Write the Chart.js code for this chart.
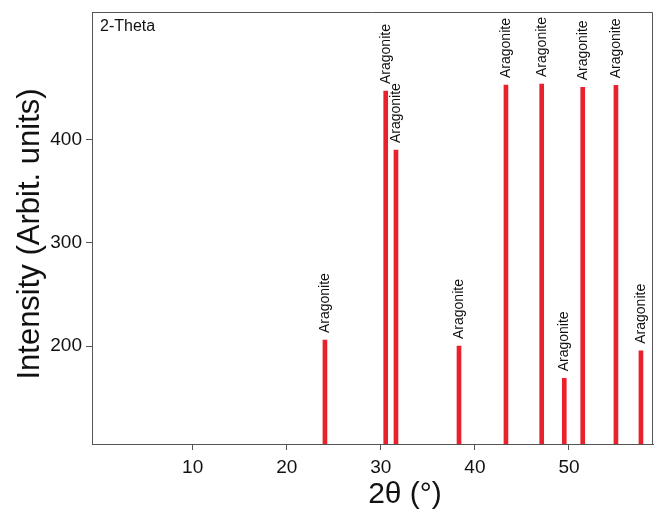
<!DOCTYPE html>
<html lang="en">
<head>
    <meta charset="UTF-8">
    <title>2-Theta peaks</title>
    <script src="https://cdn.jsdelivr.net/npm/chart.js"></script>
    <style>
        html, body { margin: 0; padding: 0; background: #fff; }
        #wrap { width: 654px; height: 513px; }
    </style>
</head>
<body>
    <div id="wrap"><canvas id="xrd" width="654" height="513"></canvas></div>
    <script>
        // peak positions (2-theta, degrees) and intensities
        const peakPos = [24.06, 30.52, 31.61, 38.31, 43.30, 47.10, 49.50, 51.46, 54.99, 57.65];
        const peakInt = [205.8, 447, 389.8, 200, 452.8, 453.8, 168.7, 450.6, 452.5, 195.4];
        const peakNames = ['Aragonite', 'Aragonite', 'Aragonite', 'Aragonite', 'Aragonite',
                           'Aragonite', 'Aragonite', 'Aragonite', 'Aragonite', 'Aragonite'];
        const xTicks = [10, 20, 30, 40, 50];
        const yTicks = [200, 300, 400];

        const axisColor = '#555';
        const fontName = '"Liberation Sans", Arial, sans-serif';

        // names above each peak, frame, axis titles
        const decorations = {
            id: 'decorations',
            afterDatasetsDraw(chart) {
                const ctx = chart.ctx;
                const area = chart.chartArea;
                const meta = chart.getDatasetMeta(0);

                ctx.save();
                ctx.fillStyle = '#111';
                ctx.font = '14px ' + fontName;
                ctx.textAlign = 'left';
                ctx.textBaseline = 'middle';
                meta.data.forEach((bar, i) => {
                    ctx.save();
                    ctx.translate(bar.x, bar.y - 7);
                    ctx.rotate(-Math.PI / 2);
                    ctx.fillText(peakNames[i], 0, 0);
                    ctx.restore();
                });

                // top and right side of the box
                ctx.strokeStyle = axisColor;
                ctx.lineWidth = 1;
                ctx.beginPath();
                ctx.moveTo(area.left, area.top + 0.5);
                ctx.lineTo(area.right - 0.5, area.top + 0.5);
                ctx.lineTo(area.right - 0.5, area.bottom);
                ctx.stroke();

                ctx.fillStyle = '#111';
                ctx.font = '16px ' + fontName;
                ctx.textAlign = 'left';
                ctx.textBaseline = 'alphabetic';
                ctx.fillText('2-Theta', area.left + 8, area.top + 19);

                ctx.font = '30px ' + fontName;
                ctx.textAlign = 'center';
                ctx.textBaseline = 'middle';
                ctx.fillText('2θ (°)', 405, 495);

                ctx.font = '31px ' + fontName;
                ctx.save();
                ctx.translate(30, 234);
                ctx.rotate(-Math.PI / 2);
                ctx.fillText('Intensity (Arbit. units)', 0, 0);
                ctx.restore();
                ctx.restore();
            }
        };

        new Chart(document.getElementById('xrd'), {
            type: 'bar',
            data: {
                datasets: [{
                    data: peakPos.map((p, i) => ({ x: p, y: peakInt[i] })),
                    backgroundColor: '#e8212b',
                    borderWidth: 0,
                    barThickness: 4
                }]
            },
            options: {
                responsive: false,
                animation: false,
                layout: { padding: { left: 0, top: 12, right: 1, bottom: 0 } },
                plugins: {
                    legend: { display: false },
                    tooltip: { enabled: false }
                },
                scales: {
                    x: {
                        type: 'linear',
                        min: -0.7,
                        max: 58.93,
                        offset: false,
                        afterBuildTicks: s => { s.ticks = xTicks.map(v => ({ value: v })); },
                        afterFit: s => { s.height = 69; s.paddingLeft = 0; s.paddingRight = 0; },
                        grid: {
                            display: true,
                            drawOnChartArea: false,
                            drawTicks: true,
                            tickLength: 6,
                            color: axisColor,
                            offset: false
                        },
                        border: { display: true, color: axisColor, width: 1 },
                        ticks: {
                            color: '#111',
                            font: { family: fontName, size: 19 },
                            padding: 6,
                            maxRotation: 0
                        }
                    },
                    y: {
                        type: 'linear',
                        min: 105.1,
                        max: 523.5,
                        afterBuildTicks: s => { s.ticks = yTicks.map(v => ({ value: v })); },
                        afterFit: s => { s.width = 92; s.paddingTop = 0; s.paddingBottom = 0; },
                        grid: {
                            display: true,
                            drawOnChartArea: false,
                            drawTicks: true,
                            tickLength: 6,
                            color: axisColor
                        },
                        border: { display: true, color: axisColor, width: 1 },
                        ticks: {
                            color: '#111',
                            font: { family: fontName, size: 19 },
                            padding: 4
                        }
                    }
                }
            },
            plugins: [decorations]
        });
    </script>
</body>
</html>
